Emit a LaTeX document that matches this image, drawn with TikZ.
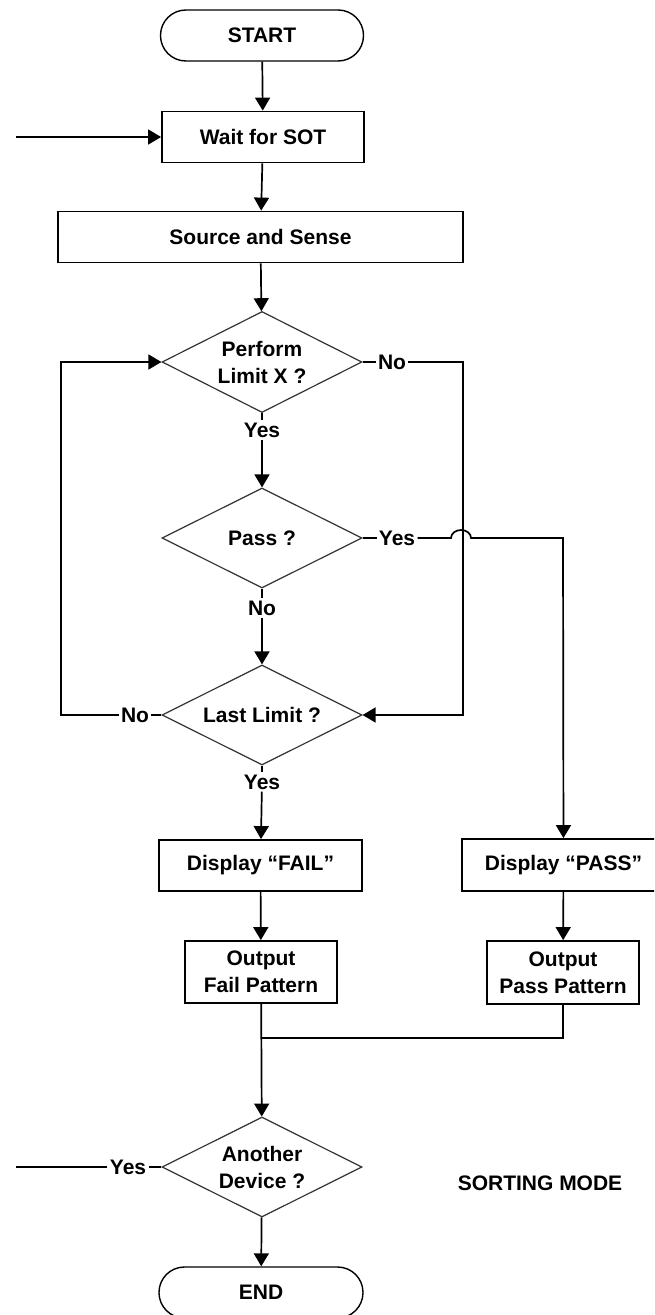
\documentclass[tikz,border=0pt]{standalone}
\usepackage{fontspec}
\setmainfont{Liberation Sans}
\usetikzlibrary{shapes.geometric,arrows.meta}

\begin{document}
\begin{tikzpicture}[x=0.5pt,y=-0.5pt,
  every node/.style={font=\bfseries\fontsize{10.5}{13.5}\selectfont,align=center},
  term/.style={draw,line width=0.7pt,rounded corners=12.7pt,minimum width=101.5pt,minimum height=25.5pt,inner sep=0pt},
  proc/.style={draw,line width=0.9pt,minimum height=25.5pt,inner sep=0pt},
  dec/.style={draw=black!80,line width=0.6pt,diamond,aspect=2,minimum width=100pt,minimum height=50pt,inner sep=0pt},
  lbl/.style={inner sep=1pt},
  link/.style={line width=0.85pt},
  flow/.style={link,-{Triangle[length=6.5pt,width=7.5pt]}}]
  \useasboundingbox (0,0) rectangle (654,1315);
  \clip (0,0) rectangle (654,1315);

  % main column
  \node[term] (start) at (262,35.5) {START};
  \node[proc,minimum width=101pt] (wait) at (263,137) {Wait for SOT};
  \node[proc,minimum width=202.5pt] (source) at (260.5,237) {Source and Sense};
  \node[dec,minimum height=50.5pt] (limx) at (262,362) {Perform\\Limit X ?};
  \node[dec] (pass) at (262,538) {Pass ?};
  \node[dec] (last) at (262,715) {Last Limit ?};
  \node[proc,minimum width=101.5pt] (dfail) at (260.5,865.5) {Display ``FAIL''};
  \node[proc,minimum width=101.5pt,minimum height=26pt] (dpass) at (563.5,865) {Display ``PASS''};
  \node[proc,minimum width=76pt,minimum height=31pt] (ofail) at (261,972) {Output\\Fail Pattern};
  \node[proc,minimum width=76pt,minimum height=31.5pt] (opass) at (563,972.5) {Output\\Pass Pattern};
  \node[dec] (another) at (262,1167) {Another\\Device ?};
  \node[term,minimum width=102pt] (fin) at (261,1292.5) {END};
  \node (mode) at (540,1183) {SORTING MODE};

  % branch labels
  \node[lbl] (nlimx) at (392,362) {No};
  \node[lbl] (ylimx) at (262,430) {Yes};
  \node[lbl] (ypass) at (397,538) {Yes};
  \node[lbl] (npass) at (262,608) {No};
  \node[lbl] (nlast) at (135,715) {No};
  \node[lbl] (ylast) at (262,782) {Yes};
  \node[lbl] (yanother) at (128,1167) {Yes};

  % bends and loose ends
  \coordinate (loopin) at (16,137);
  \coordinate (loopout) at (16,1167);
  \coordinate (rtop) at (463,362);
  \coordinate (rbot) at (463,715);
  \coordinate (ltop) at (61,362);
  \coordinate (lbot) at (61,715);
  \coordinate (hop) at (451,538);
  \coordinate (pcorner) at (563,538);
  \coordinate (merge) at (262,1038);

  \draw[flow] (start) -- (wait);
  \draw[flow] (loopin) -- (wait.west);
  \draw[flow] (wait) -- (source);
  \draw[flow] (source) -- (limx);
  \draw[link] (limx.south) -- (ylimx);
  \draw[flow] (ylimx) -- (pass);
  \draw[link] (pass.south) -- (npass);
  \draw[flow] (npass) -- (last);
  \draw[link] (last.south) -- (ylast);
  \draw[flow] (ylast) -- (dfail);
  \draw[flow] (dfail) -- (ofail);
  \draw[flow] (dpass) -- (opass);
  \draw[flow] (ofail) -- (another);
  \draw[link] (opass.south) |- (merge);
  \draw[flow] (another) -- (fin);

  % limit loop
  \draw[link] (limx.east) -- (nlimx);
  \draw[flow] (nlimx) -- (rtop) -- (rbot) -- (last.east);
  \draw[link] (last.west) -- (nlast);
  \draw[flow] (nlast) -- (lbot) -- (ltop) -- (limx.west);

  % pass branch, hops over the loop line
  \draw[link] (pass.east) -- (ypass);
  \draw[flow] (ypass) -- (hop) arc[start angle=180,end angle=360,x radius=10,y radius=8] -- (pcorner) -- (dpass);

  \draw[link] (another.west) -- (yanother);
  \draw[link] (yanother) -- (loopout);
\end{tikzpicture}
\end{document}
